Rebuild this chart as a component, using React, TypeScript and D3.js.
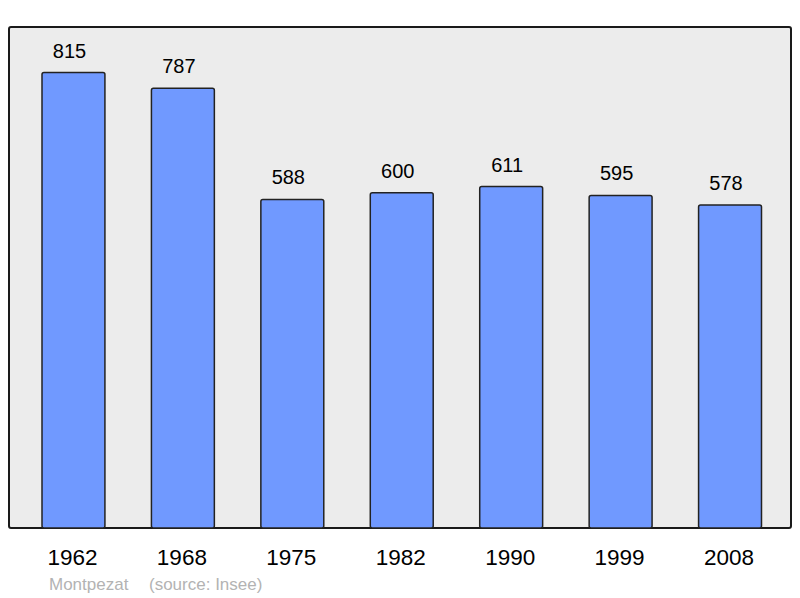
import React from 'react';
import * as d3 from 'd3';

const years = ['1962', '1968', '1975', '1982', '1990', '1999', '2008'];
const population = [815, 787, 588, 600, 611, 595, 578];
const townName = 'Montpezat';
const sourceText = '(source: Insee)';

const W = 800;
const H = 598;
const frame = { left: 9, top: 27, right: 791, bottom: 528 };

export default function App() {
  const x = d3.scaleBand<string>()
    .domain(years)
    .range([42, 761.5])
    .paddingInner(0.425)
    .paddingOuter(0);

  const y = d3.scaleLinear()
    .domain([0, d3.max(population)! * 1.1])
    .range([frame.bottom, frame.top]);

  const font = '"Liberation Sans", Arial, sans-serif';

  return (
    <svg width={W} height={H} style={{ position: 'absolute', left: 0, top: 0 }}>
      <rect x={0} y={0} width={W} height={H} fill="#ffffff" />
      <rect
        x={frame.left}
        y={frame.top}
        width={frame.right - frame.left}
        height={frame.bottom - frame.top}
        rx={2}
        fill="#ececec"
        stroke="#1a1a1a"
        strokeWidth={2}
      />
      {years.map((yr, i) => (
        <g key={yr}>
          <rect
            x={x(yr)!}
            y={y(population[i])}
            width={x.bandwidth()}
            height={frame.bottom - y(population[i])}
            rx={2}
            fill="#7099ff"
            stroke="#222"
            strokeWidth={1.5}
          />
          {/* value labels sit a bit left of the bar centre */}
          <text
            x={x(yr)! + x.bandwidth() / 2 - 4}
            y={y(population[i]) - 15}
            textAnchor="middle"
            fontFamily={font}
            fontSize={20}
            fill="#000"
          >
            {population[i]}
          </text>
          <text
            x={x(yr)! + x.bandwidth() / 2 - 1}
            y={565}
            textAnchor="middle"
            fontFamily={font}
            fontSize={22.5}
            fill="#000"
          >
            {yr}
          </text>
        </g>
      ))}
      <text x={49} y={590} fontFamily={font} fontSize={17} fill="#b3b3b3">{townName}</text>
      <text x={149} y={590} fontFamily={font} fontSize={17} fill="#b3b3b3">{sourceText}</text>
    </svg>
  );
}
